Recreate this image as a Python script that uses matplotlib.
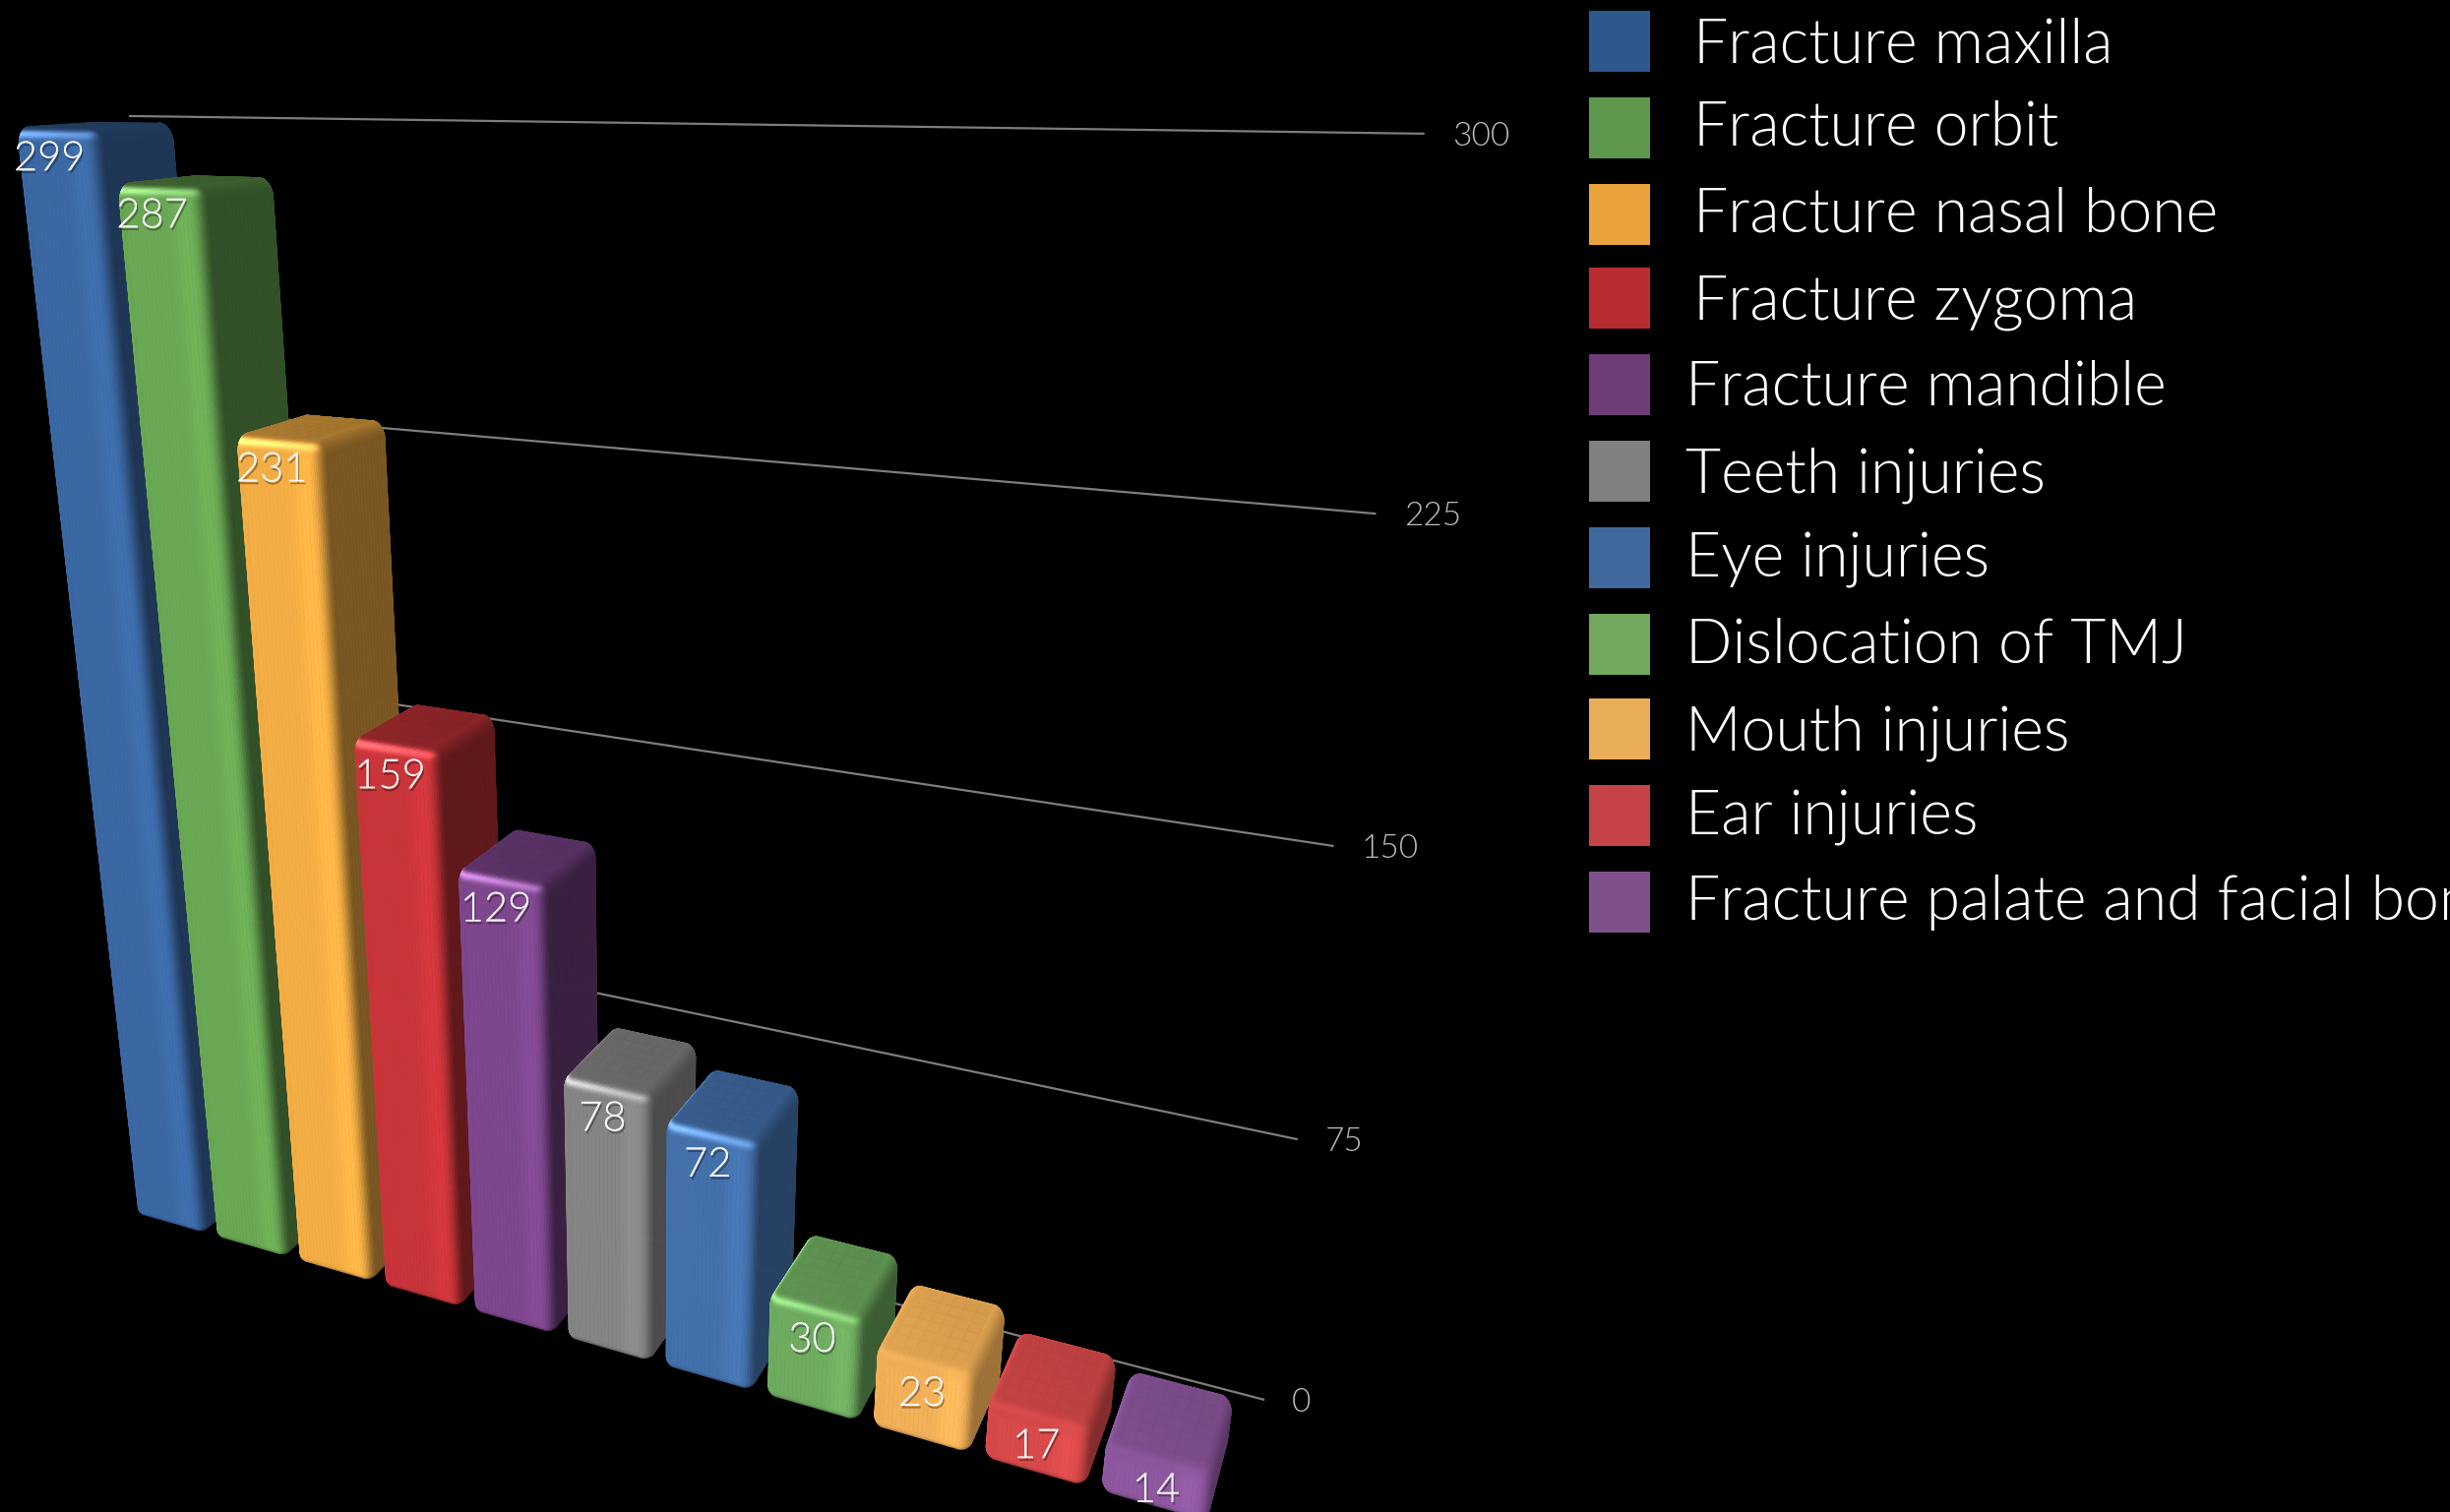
import numpy as np
import matplotlib
matplotlib.use('Agg')
import matplotlib.pyplot as plt
import matplotlib.patheffects as pe
from matplotlib.collections import PolyCollection
from matplotlib.colors import to_rgb
from matplotlib.patches import Rectangle

categories = ['Fracture maxilla', 'Fracture orbit', 'Fracture nasal bone', 'Fracture zygoma',
              'Fracture mandible', 'Teeth injuries', 'Eye injuries', 'Dislocation of TMJ',
              'Mouth injuries', 'Ear injuries', 'Fracture palate and facial bones']
values = [299, 287, 231, 159, 129, 78, 72, 30, 23, 17, 14]
axis_ticks = [0, 75, 150, 225, 300]

# legend swatches and lit front faces of the bars
swatch_colors = ['#2d588c', '#5e984e', '#e9a23c', '#b92c30', '#6e3c76', '#808080',
                 '#406a9e', '#71a85e', '#eaae58', '#c54346', '#80508c']
front_colors = ['#3c69a5', '#6aa854', '#f4ae45', '#c9353a', '#7e478e', '#858585',
                '#4471ac', '#6fac60', '#f3b158', '#d94a4b', '#8f58a0']
side_shade = [.52, .48, .50, .48, .46, .58, .58, .55, .66, .62, .62]
top_shade = [.58, .58, .70, .70, .72, .80, .82, .86, .92, .90, .88]
edge_glow = [1.0, .9, .9, 1.0, 1.0, .9, .9, .6, .08, .08, .05]

# pinhole camera for the scene: x is the bar slot, y the value, z the depth
CAMERA = np.array([
    [76.32622254, -0.42480234, 70.03590663, 140.93777632],
    [-1.21729198, -3.77078160, 1.20167664, 1233.16760511],
    [-0.01944175, -0.00064614, 0.04319371, 1.0],
])
BAR_WIDTH = 0.81
RX, RZ = 0.11, 0.11     # corner radius in slot / depth units
RY, RB = 4.5, 3.0       # shoulder and foot radius in value units
# the rounded shell sits a little outside the nominal box
PAD_X, PAD_Z, PAD_TOP, PAD_FOOT = 0.035, 0.03, 0.5, 1.0
WALL_Z = 1.7
GRID_START = -0.22
grid_end = [11.05, 11.02, 10.98, 10.95, 10.92]


def project(x, y, z):
    x, y, z = np.broadcast_arrays(x, y, z)
    w = CAMERA[2, 0] * x + CAMERA[2, 1] * y + CAMERA[2, 2] * z + CAMERA[2, 3]
    u = CAMERA[0, 0] * x + CAMERA[0, 1] * y + CAMERA[0, 2] * z + CAMERA[0, 3]
    v = CAMERA[1, 0] * x + CAMERA[1, 1] * y + CAMERA[1, 2] * z + CAMERA[1, 3]
    return u / w, v / w


def ring(x0, x1, z0, z1):
    """Corner centres and normal angles going round a rounded footprint."""
    cx, cz, ang = [], [], []
    cl, cr, cf, cb = x0 + RX, x1 - RX, z0 + RZ, z1 - RZ
    corners = [(cl, cf, 180), (cr, cf, 270), (cr, cb, 0), (cl, cb, 90)]
    for n, (a, b, start) in enumerate(corners):
        t = np.radians(start + np.linspace(0, 90, 13))
        cx += [a] * 13
        cz += [b] * 13
        ang += list(t)
        na, nb, _ = corners[(n + 1) % 4]
        s = np.linspace(0, 1, 18)[1:-1]
        cx += list(a + (na - a) * s)
        cz += list(b + (nb - b) * s)
        ang += [t[-1]] * 16
    cx.append(cx[0])
    cz.append(cz[0])
    ang.append(ang[0])
    return np.array(cx), np.array(cz), np.array(ang)


def shade(base, ang, phi, xfrac, kr, kt, glow):
    """Colour of a surface patch from its normal direction."""
    nx = np.cos(phi) * np.cos(ang)
    nz = np.cos(phi) * np.sin(ang)
    ny = np.sin(phi)
    front = np.clip(-nz, 0, None) ** 2 + np.clip(-nx, 0, None) ** 2
    right = np.clip(nx, 0, None) ** 2 + np.clip(nz, 0, None) ** 2
    top = np.clip(ny, 0, None) ** 2
    lit = front + right * kr + top * kt
    # slightly brighter strip close to the front right corner
    lit = lit * (1 + .07 * np.exp(-((xfrac - .80) / .12) ** 2) * front)
    rgb = base[None, None, :] * lit[..., None]
    ridge = np.exp(-((np.degrees(phi) - 42) / 15) ** 2) * front / (front + right + 1e-6)
    ridge = glow * ridge * (1 - .5 * xfrac)
    rgb = rgb + ridge[..., None] * (base * .55 + .22)
    return np.clip(rgb, 0, 1)


def bar_polys(i, value):
    x0, x1 = i - PAD_X, i + BAR_WIDTH + PAD_X
    z0, z1 = -PAD_Z, 1 + PAD_Z
    base = np.array(to_rgb(front_colors[i]))
    cx, cz, ang = ring(x0, x1, z0, z1)
    phi = np.radians(np.r_[np.linspace(-70, 0, 6), np.linspace(0, 90, 19)[1:]])
    foot = RB * (1 + np.sin(phi)) - PAD_FOOT
    head = value + PAD_TOP - RY + RY * np.sin(phi)
    height = np.where(phi <= 0, foot, head)
    px = cx[None, :] + RX * np.cos(phi)[:, None] * np.cos(ang)[None, :]
    pz = cz[None, :] + RZ * np.cos(phi)[:, None] * np.sin(ang)[None, :]
    py = np.broadcast_to(height[:, None], px.shape)
    su, sv = project(px, py, pz)

    quads = np.stack([
        np.stack([su[:-1, :-1], sv[:-1, :-1]], -1),
        np.stack([su[:-1, 1:], sv[:-1, 1:]], -1),
        np.stack([su[1:, 1:], sv[1:, 1:]], -1),
        np.stack([su[1:, :-1], sv[1:, :-1]], -1),
    ], 2)
    d1 = quads[..., 2, :] - quads[..., 0, :]
    d2 = quads[..., 3, :] - quads[..., 1, :]
    area = d1[..., 0] * d2[..., 1] - d1[..., 1] * d2[..., 0]

    mid_ang = np.arctan2(np.sin(ang[:-1]) + np.sin(ang[1:]), np.cos(ang[:-1]) + np.cos(ang[1:]))
    mid_phi = .5 * (phi[:-1] + phi[1:])
    A, F = np.meshgrid(mid_ang, mid_phi)
    xfrac = np.clip((.5 * (cx[:-1] + cx[1:]) - x0) / (x1 - x0), 0, 1)
    X = np.broadcast_to(xfrac[None, :], A.shape)
    cols = shade(base, A, F, X, side_shade[i], top_shade[i], edge_glow[i])

    # the front face is a known visible patch, it gives the sign of the winding
    col_front = np.argmin(np.abs(mid_ang - np.radians(-90)) + np.abs(xfrac - .5))
    sign = np.sign(area[5, col_front])
    keep = area * sign > 0
    verts, colors = list(quads[keep]), list(cols[keep])

    # flat cap inside the shoulders
    gx = np.linspace(x0 + RX, x1 - RX, 7)
    gz = np.linspace(z0 + RZ, z1 - RZ, 7)
    for a in range(6):
        for b in range(6):
            u, v = project(np.array([gx[a], gx[a + 1], gx[a + 1], gx[a]]), value + PAD_TOP,
                           np.array([gz[b], gz[b], gz[b + 1], gz[b + 1]]))
            verts.append(np.c_[u, v])
            colors.append(np.clip(base * top_shade[i] * (1 - .05 * (a + b) / 10), 0, 1))
    return verts, colors


plt.rcParams['font.family'] = ['Lato', 'DejaVu Sans']
plt.rcParams['font.weight'] = 300

fig = plt.figure(figsize=(24.9, 15.37), dpi=100, facecolor='black')
ax = fig.add_axes([0, 0, 1, 1])
ax.set_xlim(0, 2490)
ax.set_ylim(1537, 0)
ax.axis('off')

# value grid on the back wall
for tick, end in zip(axis_ticks, grid_end):
    u, v = project(np.array([GRID_START, end]), tick, WALL_Z)
    ax.plot(u, v, color='#7d7d7d', lw=1.6, zorder=1, solid_capstyle='butt')
    ax.text(u[1] + 28, v[1] + 3, str(tick), color='#bdbdbd', fontsize=24, va='center', ha='left', zorder=1)

for i, value in enumerate(values):
    verts, colors = bar_polys(i, value)
    ax.add_collection(PolyCollection(verts, facecolors=colors, edgecolors=colors,
                                     linewidths=.5, zorder=2 + i))

# value labels sit just under the top edge of each front face
shadow = [pe.withSimplePatchShadow(offset=(1, -2), shadow_rgbFace='black', alpha=.35), pe.Normal()]
for i, value in enumerate(values):
    u, v = project(i + BAR_WIDTH / 2, value, 0)
    ax.text(float(u) - 3 - 3 * value / 300, float(v) + 30 + 5 * (1 - value / 300), str(value),
            color='#f4f4f4', fontsize=30, ha='center', va='center', zorder=20, path_effects=shadow)

swatch_top = [11, 99, 187, 272, 360, 448, 536, 624, 710, 798, 886]
baselines = [63, 148, 236, 324, 412, 500, 586, 673, 762, 849, 935]
for i, name in enumerate(categories):
    ax.add_patch(Rectangle((1615, swatch_top[i]), 62, 62, facecolor=swatch_colors[i], edgecolor='none'))
    ax.text(1721 if i < 4 else 1713, baselines[i], name, color='white', fontsize=45,
            ha='left', va='baseline', clip_on=False)

fig.savefig('out.png', dpi=100, facecolor='black')
